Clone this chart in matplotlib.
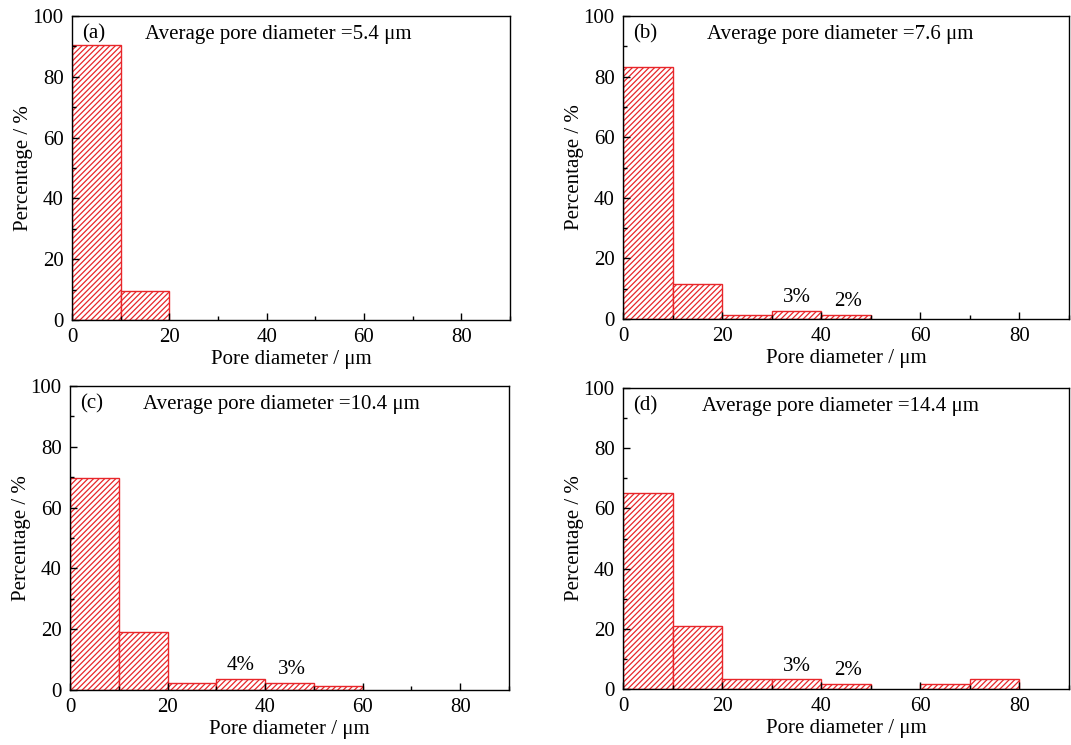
import numpy as np
import matplotlib
matplotlib.use("Agg")
import matplotlib.pyplot as plt
from matplotlib.ticker import MultipleLocator

plt.rcParams['font.family'] = ['Liberation Serif', 'DejaVu Serif']
plt.rcParams['font.size'] = 15
plt.rcParams['hatch.linewidth'] = 0.9

# =============================================================================
# Data: pore size histograms (bin left edges in um, percentages)
# =============================================================================
bin_width = 10
bins_a = [0, 10]
pct_a = [90.5, 9.5]

bins_b = [0, 10, 20, 30, 40]
pct_b = [83.2, 11.6, 1.4, 2.6, 1.4]

bins_c = [0, 10, 20, 30, 40, 50]
pct_c = [69.8, 19.2, 2.4, 3.7, 2.4, 1.2]

bins_d = [0, 10, 20, 30, 40, 50, 60, 70]
pct_d = [65.0, 20.9, 3.2, 3.2, 1.8, 0.0, 1.8, 3.2]

panel_tags = ["(a)", "(b)", "(c)", "(d)"]
avg_diameters = ["5.4", "7.6", "10.4", "14.4"]
avg_text_x = [15, 17, 15, 16]

# small-bar labels: (bin centre, text)
labels_b = [(35, "3%"), (45.5, "2%")]
labels_c = [(35, "4%"), (45.5, "3%")]
labels_d = [(35, "3%"), (45.5, "2%")]

panels = [
    (bins_a, pct_a, []),
    (bins_b, pct_b, labels_b),
    (bins_c, pct_c, labels_c),
    (bins_d, pct_d, labels_d),
]

# axes rectangles in pixels (left, top, right, bottom) on a 1071x745 canvas
W, H = 1071, 745
boxes = [
    (72, 16, 510, 320),
    (623, 16, 1069, 319),
    (70, 386, 509, 690),
    (623, 388, 1069, 689),
]

fig = plt.figure(figsize=(W / 100, H / 100), dpi=100)

for i, ((bins, pct, lbls), box) in enumerate(zip(panels, boxes)):
    l, t, r, b = box
    ax = fig.add_axes([l / W, 1 - b / H, (r - l) / W, (b - t) / H])

    # empty bins are left undrawn so the black axis line stays visible
    xs = [x for x, p in zip(bins, pct) if p > 0]
    hs = [p for p in pct if p > 0]
    ax.bar(xs, hs, width=bin_width, align='edge', color='white',
           edgecolor='#e8262a', hatch='//////', linewidth=1.0)

    ax.set_xlim(0, 90)
    ax.set_ylim(0, 100)
    ax.xaxis.set_major_locator(MultipleLocator(20))
    ax.xaxis.set_minor_locator(MultipleLocator(10))
    ax.yaxis.set_major_locator(MultipleLocator(20))
    ax.yaxis.set_minor_locator(MultipleLocator(10))
    ax.tick_params(which='both', direction='in', top=False, right=False,
                   labelsize=15, width=1.0)
    ax.tick_params(which='major', length=5)
    ax.tick_params(which='minor', length=3)
    ax.tick_params(axis='x', which='both', pad=6)
    ax.tick_params(axis='y', which='both', pad=6)
    for sp in ax.spines.values():
        sp.set_linewidth(1.0)

    ax.set_xlabel("Pore diameter / μm", fontsize=15, labelpad=2)
    ax.set_ylabel("Percentage / %", fontsize=15, labelpad=0)

    ax.text(2, 94, panel_tags[i], fontsize=15, ha='left', va='center')
    ax.text(avg_text_x[i], 94, "Average pore diameter =" + avg_diameters[i] + " μm",
            fontsize=15, ha='left', va='center')

    for xc, s in lbls:
        h = pct[bins.index(int(xc // 10) * 10)]
        ax.text(xc, h + 1.2, s, fontsize=15, ha='center', va='bottom')

fig.savefig("out.png", dpi=100)
